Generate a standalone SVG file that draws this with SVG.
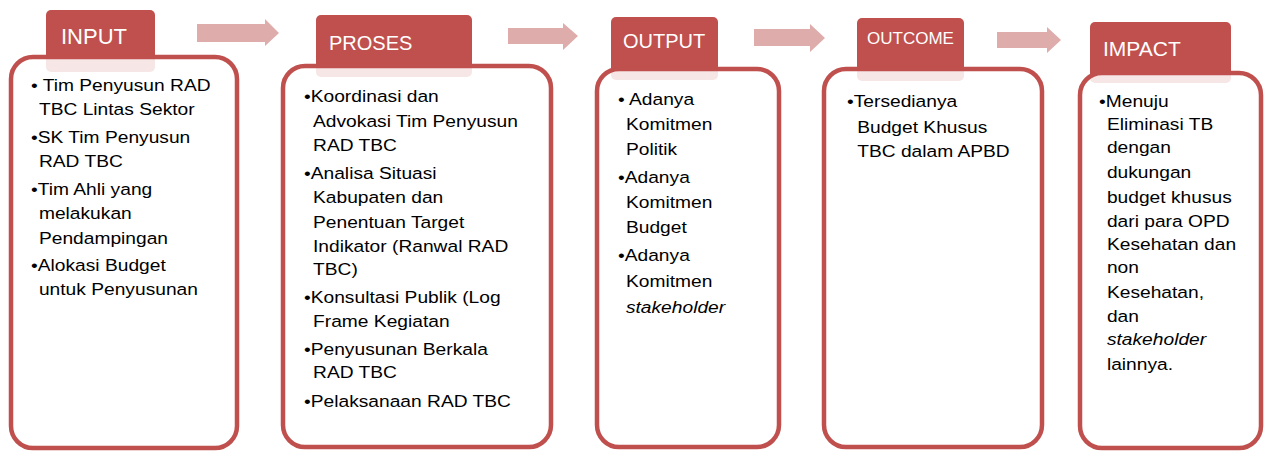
<svg xmlns="http://www.w3.org/2000/svg" width="1264" height="452" viewBox="0 0 1264 452">
<style>
.hdr{fill:#c0504d}
.box{fill:#ffffff;fill-opacity:0.86;stroke:#c0504d;stroke-width:4.5}
.lbl{fill:#ffffff;font-family:"Liberation Sans",Arial,sans-serif}
.t{fill:#000000;font-family:"Liberation Sans",Arial,sans-serif;font-size:17px}
.i{font-style:italic}
.arr{fill:#ddacab}
</style>
<rect width="1264" height="452" fill="#ffffff"/>
<g id="connectors">
<polygon class="arr" points="197,24 265,24 265,19 279,33 265,46 265,42 197,42"/>
<polygon class="arr" points="508,28 563,28 563,23 578,36 563,50 563,44 508,44"/>
<polygon class="arr" points="754,29 810,29 810,24 825,38 810,52 810,46 754,46"/>
<polygon class="arr" points="997,32 1047,32 1047,27 1061,40 1047,53 1047,48 997,48"/>
</g>
<g id="input">
<rect class="hdr" x="46" y="10" width="109" height="62" rx="5"/>
<rect class="box" x="11" y="57" width="226" height="391" rx="22"/>
<text class="lbl" x="61" y="44" font-size="22">INPUT</text>
<g transform="translate(31,0) scale(1.13,1)">
<text class="t" x="0" y="91">• Tim Penyusun RAD</text>
<text class="t" x="7" y="115.5">TBC Lintas Sektor</text>
<text class="t" x="0" y="143">•SK Tim Penyusun</text>
<text class="t" x="7" y="167.5">RAD TBC</text>
<text class="t" x="0" y="195">•Tim Ahli yang</text>
<text class="t" x="7" y="219.5">melakukan</text>
<text class="t" x="7" y="244">Pendampingan</text>
<text class="t" x="0" y="271">•Alokasi Budget</text>
<text class="t" x="7" y="295.5">untuk Penyusunan</text>
</g>
</g>
<g id="proses">
<rect class="hdr" x="316" y="15" width="156" height="62" rx="5"/>
<rect class="box" x="283" y="66" width="268" height="381" rx="22"/>
<text class="lbl" x="329" y="50" font-size="20">PROSES</text>
<g transform="translate(304,0) scale(1.13,1)">
<text class="t" x="0" y="102">•Koordinasi dan</text>
<text class="t" x="8" y="127">Advokasi Tim Penyusun</text>
<text class="t" x="8" y="151">RAD TBC</text>
<text class="t" x="0" y="179">•Analisa Situasi</text>
<text class="t" x="8" y="203">Kabupaten dan</text>
<text class="t" x="8" y="228">Penentuan Target</text>
<text class="t" x="8" y="252">Indikator (Ranwal RAD</text>
<text class="t" x="8" y="275">TBC)</text>
<text class="t" x="0" y="303">•Konsultasi Publik (Log</text>
<text class="t" x="8" y="327">Frame Kegiatan</text>
<text class="t" x="0" y="355">•Penyusunan Berkala</text>
<text class="t" x="8" y="378">RAD TBC</text>
<text class="t" x="0" y="407">•Pelaksanaan RAD TBC</text>
</g>
</g>
<g id="output">
<rect class="hdr" x="611" y="17" width="107" height="63" rx="5"/>
<rect class="box" x="597" y="69" width="182" height="378" rx="22"/>
<text class="lbl" x="623" y="48" font-size="20">OUTPUT</text>
<g transform="translate(618,0) scale(1.13,1)">
<text class="t" x="0" y="105">• Adanya</text>
<text class="t" x="7" y="130">Komitmen</text>
<text class="t" x="7" y="155">Politik</text>
<text class="t" x="0" y="183">•Adanya</text>
<text class="t" x="7" y="208">Komitmen</text>
<text class="t" x="7" y="233">Budget</text>
<text class="t" x="0" y="261">•Adanya</text>
<text class="t" x="7" y="287">Komitmen</text>
<text class="t i" x="7" y="313">stakeholder</text>
</g>
</g>
<g id="outcome">
<rect class="hdr" x="857" y="18" width="107" height="63" rx="5"/>
<rect class="box" x="824" y="69" width="218" height="378" rx="22"/>
<text class="lbl" x="867" y="44" font-size="17">OUTCOME</text>
<g transform="translate(847,0) scale(1.13,1)">
<text class="t" x="0" y="107">•Tersedianya</text>
<text class="t" x="9" y="133">Budget Khusus</text>
<text class="t" x="9" y="157">TBC dalam APBD</text>
</g>
</g>
<g id="impact">
<rect class="hdr" x="1090" y="22" width="141" height="61" rx="5"/>
<rect class="box" x="1080" y="73" width="181" height="375" rx="22"/>
<text class="lbl" x="1103" y="56" font-size="21">IMPACT</text>
<g transform="translate(1099,0) scale(1.13,1)">
<text class="t" x="0" y="107">•Menuju</text>
<text class="t" x="7" y="130">Eliminasi TB</text>
<text class="t" x="7" y="153">dengan</text>
<text class="t" x="7" y="178">dukungan</text>
<text class="t" x="7" y="203">budget khusus</text>
<text class="t" x="7" y="227">dari para OPD</text>
<text class="t" x="7" y="250">Kesehatan dan</text>
<text class="t" x="7" y="273">non</text>
<text class="t" x="7" y="298">Kesehatan,</text>
<text class="t" x="7" y="322">dan</text>
<text class="t i" x="7" y="345">stakeholder</text>
<text class="t" x="7" y="370">lainnya.</text>
</g>
</g>
</svg>
